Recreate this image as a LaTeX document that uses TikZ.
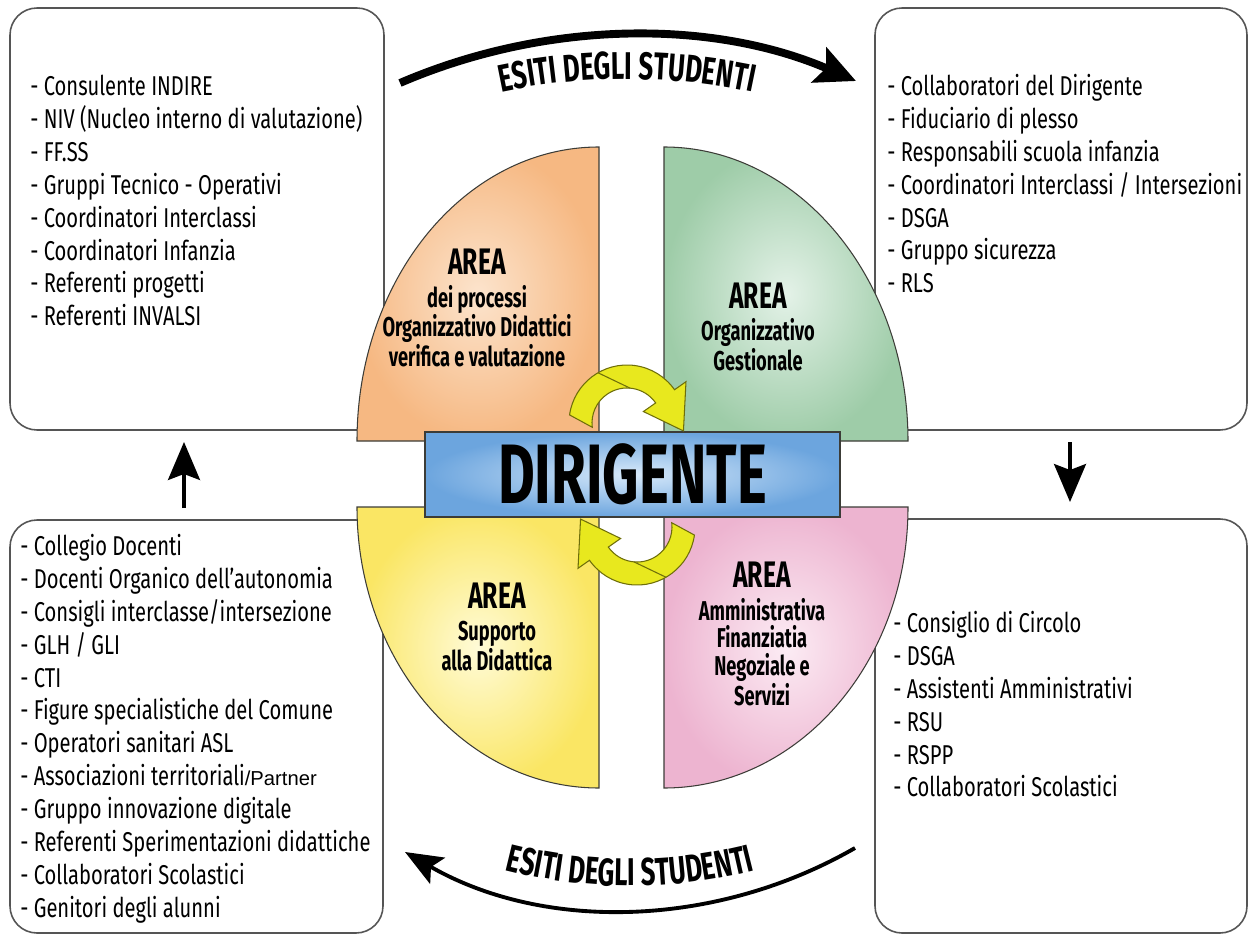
\documentclass[tikz,border=0pt]{standalone}
\usepackage{fontspec}
\setmainfont[FakeStretch=0.74]{Fira Sans}
\newfontfamily\headfont[FakeStretch=0.67]{Fira Sans}
\newfontfamily\partnerfont{Liberation Sans}
\usepackage{tikz}
\usetikzlibrary{arrows.meta,calc,fit,decorations.text}
\usepackage{xcolor}

\definecolor{boxgray}{RGB}{85,85,85}
\definecolor{qline}{RGB}{60,60,55}
\definecolor{orout}{RGB}{246,184,130}
\definecolor{orin}{RGB}{252,228,205}
\definecolor{grout}{RGB}{158,204,168}
\definecolor{grin}{RGB}{228,242,232}
\definecolor{yeout}{RGB}{250,230,100}
\definecolor{yein}{RGB}{255,251,215}
\definecolor{piout}{RGB}{237,180,208}
\definecolor{piin}{RGB}{252,236,244}
\definecolor{dirout}{RGB}{108,165,222}
\definecolor{dirin}{RGB}{215,233,250}
\definecolor{turnfill}{RGB}{232,232,30}
\definecolor{turndraw}{RGB}{110,110,10}

\begin{document}
\begin{tikzpicture}[x=0.02cm, y=-0.02cm,
	listbox/.style={
		draw=boxgray,
		line width=0.9pt,
		rounded corners=0.54cm,
		inner sep=0pt,
		fit=#1
	},
	listtext/.style={anchor=north west, align=left, inner sep=0pt,
		font=\fontsize{15.5}{18.7}\selectfont},
	quadrant/.style={draw=qline, line width=0.6pt},
	arealabel/.style={align=center, inner sep=0pt,
		font=\headfont\bfseries\fontsize{15.5}{15.6}\selectfont},
	turn/.style={fill=turnfill, draw=turndraw, line width=0.6pt},
	esiti/.style={line width=4.5pt, -{Stealth[length=0.8cm,width=0.75cm,inset=0.15cm]}},
	esitilow/.style={line width=2.2pt, -{Stealth[length=0.75cm,width=0.6cm,inset=0.15cm]}},
	updown/.style={line width=1.8pt, -{Stealth[length=0.76cm,width=0.64cm,inset=0.12cm]}}
	]

	\useasboundingbox (0,0) rectangle (1251,936);

	% the four boxes
	\coordinate (tlA) at (10,8);    \coordinate (tlB) at (384,430);
	\coordinate (trA) at (875,8);   \coordinate (trB) at (1247,430);
	\coordinate (blA) at (10,520);  \coordinate (blB) at (383,933);
	\coordinate (brA) at (875,519); \coordinate (brB) at (1247,933);
	\node[listbox={(tlA) (tlB)}] (tlbox) {};
	\node[listbox={(trA) (trB)}] (trbox) {};
	\node[listbox={(blA) (blB)}] (blbox) {};
	\node[listbox={(brA) (brB)}] (brbox) {};

	% quarter areas
	\shadedraw[quadrant, inner color=orin, outer color=orout] (599,441) -- (357,441)
		arc[start angle=180, end angle=270, x radius=242, y radius=294] -- cycle;
	\shadedraw[quadrant, inner color=grin, outer color=grout] (664,441) -- (664,147)
		arc[start angle=270, end angle=360, x radius=244, y radius=294] -- cycle;
	\shadedraw[quadrant, inner color=yein, outer color=yeout] (599,507) -- (357,507)
		arc[start angle=180, end angle=90, x radius=242, y radius=281] -- cycle;
	\shadedraw[quadrant, inner color=piin, outer color=piout] (664,507) -- (664,788)
		arc[start angle=90, end angle=0, x radius=244, y radius=281] -- cycle;

	\node[draw=qline, line width=0.8pt, inner color=dirin, outer color=dirout,
		minimum width=8.3cm, minimum height=1.7cm,
		font=\headfont\bfseries\fontsize{48}{48}\selectfont] (dir) at (632.5,474.5) {DIRIGENTE};

	% turning arrows
	\foreach \rot in {0,180}{
		\begin{scope}[rotate around={\rot:(632,475)}]
			\filldraw[turn] ($(627,423)+(188:58)$) arc[start angle=188, end angle=325, radius=58]
				-- ($(627,423)+(325:72)$) -- ($(627,423)+(8:57)$) -- ($(627,423)+(325:20)$)
				-- ($(627,423)+(325:35)$) arc[start angle=325, end angle=173, radius=35] -- cycle;
			\draw[turndraw, line width=0.6pt] ($(627,423)+(240:58)$) -- ($(627,423)+(275:35)$);
		\end{scope}
	}

	\node[arealabel] (qor) at (477,308) {{\fontsize{21}{22}\selectfont AREA}\\[3pt]dei processi\\Organizzativo Didattici\\verifica e valutazione};
	\node[arealabel] (qgr) at (758,327) {{\fontsize{21}{22}\selectfont AREA}\\[3pt]Organizzativo\\Gestionale};
	\node[arealabel] (qye) at (497,627) {{\fontsize{21}{22}\selectfont AREA}\\[3pt]Supporto\\alla Didattica};
	\node[arealabel] (qpi) at (762,634) {{\fontsize{21}{22}\selectfont AREA}\\[3pt]Amministrativa\\Finanziatia\\Negoziale e\\Servizi};

	% lists
	\node[listtext] (tltext) at (30,75) {- Consulente INDIRE\\- NIV (Nucleo interno di valutazione)\\- FF.SS\\- Gruppi Tecnico - Operativi\\- Coordinatori Interclassi\\- Coordinatori Infanzia\\- Referenti progetti\\- Referenti INVALSI};
	\node[listtext] (trtext) at (887,74) {- Collaboratori del Dirigente\\- Fiduciario di plesso\\- Responsabili scuola infanzia\\- Coordinatori Interclassi / Intersezioni\\- DSGA\\- Gruppo sicurezza\\- RLS};
	\node[listtext] (bltext) at (20,534) {- Collegio Docenti\\- Docenti Organico dell’autonomia\\- Consigli interclasse/intersezione\\- GLH / GLI\\- CTI\\- Figure specialistiche del Comune\\- Operatori sanitari ASL\\- Associazioni territoriali{\partnerfont\fontsize{11.5}{18.7}\selectfont/Partner}\\- Gruppo innovazione digitale\\- Referenti Sperimentazioni didattiche\\- Collaboratori Scolastici\\- Genitori degli alunni};
	\node[listtext] (brtext) at (893,611) {- Consiglio di Circolo\\- DSGA\\- Assistenti Amministrativi\\- RSU\\- RSPP\\- Collaboratori Scolastici};

	% esiti arrows
	\coordinate (esS) at (400,83);  \coordinate (esE) at (856,81);
	\coordinate (elS) at (855,848); \coordinate (elE) at (405,852);
	\draw[esiti] (esS) .. controls (545,20.5) and (711,18.5) .. (esE);
	\draw[esitilow] (elS) .. controls (716,928) and (544,932) .. (elE);
	\path[decorate, decoration={text along path, text align=center,
		text={|\headfont\bfseries\fontsize{22}{22}\selectfont|ESITI DEGLI STUDENTI}}]
		(460,102.5) .. controls (569,71.2) and (685,71.2) .. (794,102.5);
	\path[decorate, decoration={text along path, text align=center,
		text={|\headfont\bfseries\fontsize{22}{22}\selectfont|ESITI DEGLI STUDENTI}}]
		(460,856.5) .. controls (570,895.8) and (690,895.8) .. (800,856.5);

	% up and down
	\coordinate (upS) at (184,508); \coordinate (upE) at (184,442);
	\coordinate (dnS) at (1070,442); \coordinate (dnE) at (1070,502);
	\draw[updown] (upS) -- (upE);
	\draw[updown] (dnS) -- (dnE);
\end{tikzpicture}
\end{document}
